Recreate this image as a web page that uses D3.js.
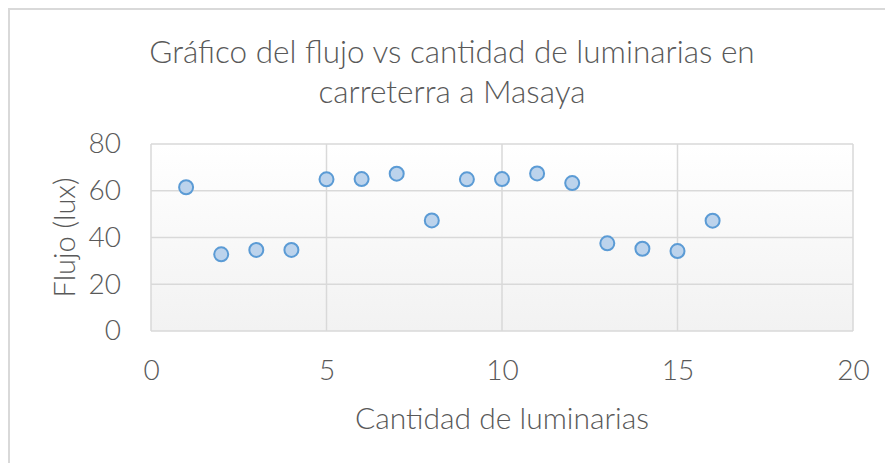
<!DOCTYPE html>
<html>
<head>
<meta charset="utf-8">
<script src="https://cdn.jsdelivr.net/npm/d3@7"></script>
<style>
  body { margin: 0; background: #fff; }
  svg text { font-family: Lato, "Open Sans", sans-serif; font-weight: 300; fill: #595959; }
</style>
</head>
<body>
<div id="chart"></div>
<script>
// luminaria number vs measured flux
const luminarias = [1, 2, 3, 4, 5, 6, 7, 8, 9, 10, 11, 12, 13, 14, 15, 16];
const flujo = [61.5, 32.8, 34.7, 34.7, 64.9, 65, 67.3, 47.3, 64.9, 65, 67.4, 63.3, 37.5, 35.2, 34.2, 47.2];
const xTicks = [0, 5, 10, 15, 20];
const yTicks = [0, 20, 40, 60, 80];
const titleLines = ["Gráfico del flujo vs cantidad de luminarias en", "carreterra a Masaya"];

const W = 885, H = 463;
const margin = { top: 144, right: 32, bottom: 132, left: 151 };
const width = W - margin.left - margin.right,
      height = H - margin.top - margin.bottom;
const titleX = 452; // title is centred on the whole chart box, not the plot

const svg = d3.select("#chart").append("svg")
  .attr("width", W).attr("height", H);

const defs = svg.append("defs");
const grad = defs.append("linearGradient")
  .attr("id", "plotBg").attr("x1", 0).attr("y1", 0).attr("x2", 0).attr("y2", 1);
grad.append("stop").attr("offset", "0%").attr("stop-color", "#ffffff");
grad.append("stop").attr("offset", "100%").attr("stop-color", "#f2f2f2");

// outer chart border
svg.append("rect")
  .attr("x", 9).attr("y", 9)
  .attr("width", W + 20).attr("height", H + 20)
  .attr("fill", "#fff").attr("stroke", "#d9d9d9").attr("stroke-width", 2);

// title
svg.append("text")
  .attr("x", titleX).attr("y", 63)
  .attr("text-anchor", "middle").style("font-size", "31.5px")
  .selectAll("tspan").data(titleLines).enter().append("tspan")
  .attr("x", titleX)
  .attr("dy", (d, i) => i === 0 ? 0 : 40)
  .text(d => d);

const g = svg.append("g")
  .attr("transform", "translate(" + margin.left + "," + margin.top + ")");

const x = d3.scaleLinear().domain([0, 20]).range([0, width]);
const y = d3.scaleLinear().domain([0, 80]).range([height, 0]);

g.append("rect")
  .attr("width", width).attr("height", height)
  .attr("fill", "url(#plotBg)");

// gridlines
g.append("g").selectAll("line").data(yTicks).enter().append("line")
  .attr("x1", 0).attr("x2", width)
  .attr("y1", d => y(d)).attr("y2", d => y(d))
  .attr("stroke", "#d9d9d9").attr("stroke-width", 1.5);

g.append("g").selectAll("line").data(xTicks).enter().append("line")
  .attr("y1", 0).attr("y2", height)
  .attr("x1", d => x(d)).attr("x2", d => x(d))
  .attr("stroke", "#d9d9d9").attr("stroke-width", 1.5);

// axes (labels only, Excel style)
const xAxis = g.append("g")
  .attr("transform", "translate(0," + height + ")")
  .call(d3.axisBottom(x).tickValues(xTicks).tickSize(0).tickPadding(29));
const yAxis = g.append("g")
  .call(d3.axisLeft(y).tickValues(yTicks).tickSize(0).tickPadding(30));
[xAxis, yAxis].forEach(a => {
  a.select(".domain").remove();
  a.selectAll("text").style("font-size", "28px").attr("fill", "#595959")
    .style("font-family", "Lato, 'Open Sans', sans-serif").style("font-weight", 300);
});

// axis titles
svg.append("text")
  .attr("x", margin.left + width / 2).attr("y", 429)
  .attr("text-anchor", "middle").style("font-size", "30px")
  .text("Cantidad de luminarias");

svg.append("text")
  .attr("transform", "translate(75," + (margin.top + height / 2) + ") rotate(-90)")
  .attr("text-anchor", "middle").style("font-size", "29px")
  .text("Flujo (lux)");

// points
g.selectAll("circle").data(luminarias).enter().append("circle")
  .attr("cx", d => x(d))
  .attr("cy", (d, i) => y(flujo[i]))
  .attr("r", 7)
  .attr("fill", "#bcd3ec")
  .attr("stroke", "#5b9bd5").attr("stroke-width", 2);
</script>
</body>
</html>
